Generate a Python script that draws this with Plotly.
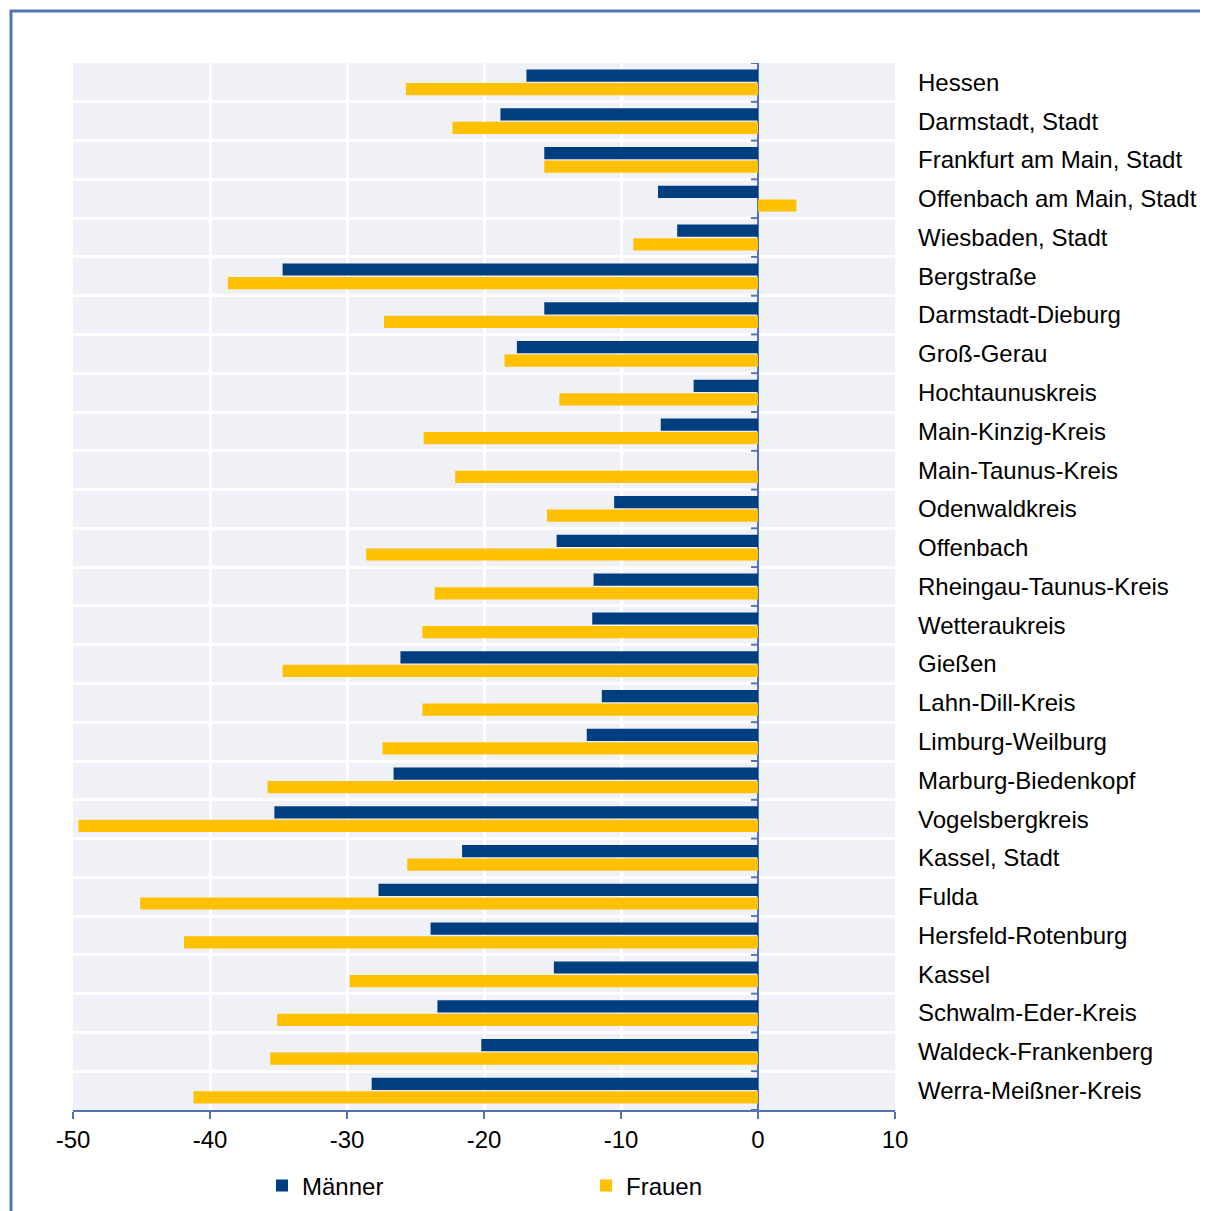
import plotly.graph_objects as go

categories = ["Hessen", "Darmstadt, Stadt", "Frankfurt am Main, Stadt", "Offenbach am Main, Stadt",
              "Wiesbaden, Stadt", "Bergstraße", "Darmstadt-Dieburg", "Groß-Gerau", "Hochtaunuskreis",
              "Main-Kinzig-Kreis", "Main-Taunus-Kreis", "Odenwaldkreis", "Offenbach",
              "Rheingau-Taunus-Kreis", "Wetteraukreis", "Gießen", "Lahn-Dill-Kreis",
              "Limburg-Weilburg", "Marburg-Biedenkopf", "Vogelsbergkreis", "Kassel, Stadt", "Fulda",
              "Hersfeld-Rotenburg", "Kassel", "Schwalm-Eder-Kreis", "Waldeck-Frankenberg",
              "Werra-Meißner-Kreis"]
maenner = [-16.9, -18.8, -15.6, -7.3, -5.9, -34.7, -15.6, -17.6, -4.7, -7.1, 0.0, -10.5, -14.7,
           -12.0, -12.1, -26.1, -11.4, -12.5, -26.6, -35.3, -21.6, -27.7, -23.9, -14.9, -23.4,
           -20.2, -28.2]
frauen = [-25.7, -22.3, -15.6, 2.8, -9.1, -38.7, -27.3, -18.5, -14.5, -24.4, -22.1, -15.4, -28.6,
          -23.6, -24.5, -34.7, -24.5, -27.4, -35.8, -49.6, -25.6, -45.1, -41.9, -29.8, -35.1,
          -35.6, -41.2]
x_ticks = [-50, -40, -30, -20, -10, 0, 10]

FONT = "Liberation Sans, Arial, sans-serif"
AXIS = "#5272B0"
pos = list(range(len(categories)))
bounds = [i + 0.5 for i in range(-1, len(categories))]

# figure pixel geometry (page body has an 8px margin)
W, H = 1200, 1203
ML, MT = 65, 55
PW, PH = 822, 1047

fig = go.Figure()
fig.add_trace(go.Bar(y=pos, x=maenner, orientation="h", name="Männer",
                     marker=dict(color="#003F7F", line=dict(width=0))))
fig.add_trace(go.Bar(y=pos, x=frauen, orientation="h", name="Frauen",
                     marker=dict(color="#FFC000", line=dict(width=0))))

# small tick marks on the zero axis at category boundaries
for b in bounds:
    fig.add_shape(type="line", xref="x", yref="y", xsizemode="pixel", xanchor=0,
                  x0=-7, x1=0, y0=b, y1=b, line=dict(color=AXIS, width=2), layer="above")

# outer frame
fig.add_shape(type="rect", xref="paper", yref="paper",
              x0=(3 - ML) / PW, x1=1.6, y0=-0.3, y1=(MT + PH - 3) / PH,
              line=dict(color="#5272B0", width=3), fillcolor="rgba(0,0,0,0)", layer="below")

fig.update_layout(
    width=W, height=H,
    margin=dict(l=ML, r=W - ML - PW, t=MT, b=H - MT - PH, autoexpand=False),
    paper_bgcolor="white", plot_bgcolor="#F0F1F7",
    barmode="group", bargap=0.3, bargroupgap=0.1,
    font=dict(family=FONT, size=24, color="black"),
    showlegend=True,
    legend=dict(orientation="h", xref="container", yref="container",
                x=(262 - 8) / W, xanchor="left",
                y=1 - (1186 - 8) / H, yanchor="middle",
                entrywidth=279, entrywidthmode="pixels", itemwidth=30,
                font=dict(family=FONT, size=24, color="black"), bgcolor="rgba(0,0,0,0)"),
    xaxis=dict(range=[-50, 10], tickvals=x_ticks, ticktext=[str(v) for v in x_ticks],
               showgrid=True, gridcolor="white", gridwidth=3,
               zeroline=True, zerolinecolor=AXIS, zerolinewidth=2,
               showline=True, linecolor=AXIS, linewidth=2,
               ticks="outside", ticklen=7, tickwidth=2, tickcolor=AXIS, ticklabelstandoff=0,
               tickfont=dict(family=FONT, size=24, color="black"), fixedrange=True),
    yaxis=dict(range=[len(categories) - 0.5, -0.5], side="right",
               tickvals=pos, ticktext=categories, ticks="", ticklabelstandoff=22,
               showgrid=False, zeroline=False, showline=False,
               minor=dict(tickvals=bounds, showgrid=True, gridcolor="white", gridwidth=3, ticks=""),
               tickfont=dict(family=FONT, size=24, color="black"), fixedrange=True),
)

fig.write_html("out.html")
